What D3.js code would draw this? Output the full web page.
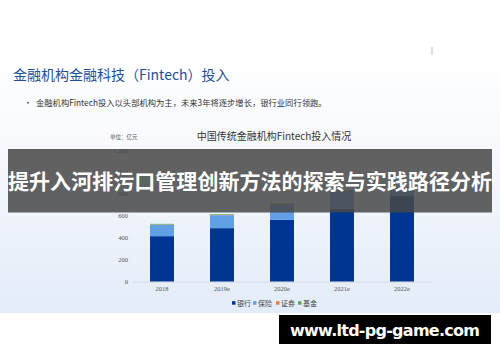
<!DOCTYPE html>
<html>
<head>
<meta charset="utf-8">
<script src="https://cdn.jsdelivr.net/npm/d3@7"></script>
<style>
  body { margin: 0; background: #fff; }
  svg { display: block; }
</style>
</head>
<body>
<script>
// chart values
var years = ["2018", "2019e", "2020e", "2021e", "2022e"];
var bank = [415, 488, 564, 665, 780];
var insurance = [103, 118, 142, 160, 75];
var securities = [3, 3, 3, 3, 3];
var fund = [6, 6, 6, 6, 6];
var seriesNames = ["银行", "保险", "证券", "基金"];
var yTicks = [0, 200, 400, 600, 800, 1000, 1200];

var width = 500, height = 362;
var colors = ["#003591", "#62a0e6", "#ed7d31", "#5aa55a"];
var cjk = "'Noto Sans CJK SC', 'Noto Sans', sans-serif";
var serif = "'Liberation Serif', 'DejaVu Serif', serif";

const svg = d3.select("body")
    .append("svg")
    .attr("width", width)
    .attr("height", height);

// slide background
var defs = svg.append("defs");
var grad = defs.append("linearGradient")
    .attr("id", "slidebg")
    .attr("x1", 0).attr("y1", 0).attr("x2", 0).attr("y2", 1);
grad.append("stop").attr("offset", "0%").attr("stop-color", "#ffffff");
grad.append("stop").attr("offset", "35%").attr("stop-color", "#f7f9fd");
grad.append("stop").attr("offset", "100%").attr("stop-color", "#e3ecf8");

svg.append("rect")
    .attr("x", 0).attr("y", 55)
    .attr("width", width).attr("height", 258)
    .attr("fill", "url(#slidebg)");

svg.append("line")
    .attr("x1", 432).attr("x2", 432)
    .attr("y1", 47).attr("y2", 55)
    .attr("stroke", "#bbb");

// slide heading
svg.append("text")
    .attr("x", 13).attr("y", 80)
    .attr("font-family", cjk)
    .attr("font-size", 14)
    .attr("fill", "#1f4f9c")
    .text("金融机构金融科技（Fintech）投入");

svg.append("text")
    .attr("x", 24).attr("y", 106)
    .attr("font-family", cjk)
    .attr("font-size", 8)
    .attr("fill", "#333")
    .text("•");

svg.append("text")
    .attr("x", 36).attr("y", 106)
    .attr("font-family", cjk)
    .attr("font-size", 8.3)
    .attr("fill", "#333")
    .text("金融机构Fintech投入以头部机构为主，未来3年将逐步增长，银行业同行领跑。");

// chart title + unit
svg.append("text")
    .attr("x", 274).attr("y", 140)
    .attr("text-anchor", "middle")
    .attr("font-family", cjk)
    .attr("font-size", 10)
    .attr("fill", "#333")
    .text("中国传统金融机构Fintech投入情况");

svg.append("text")
    .attr("x", 110).attr("y", 139)
    .attr("font-family", cjk)
    .attr("font-size", 5.5)
    .attr("fill", "#555")
    .text("单位：亿元");

// scales
var xscale = d3.scaleBand()
    .domain(years)
    .range([132, 432])
    .paddingInner(0.6)
    .paddingOuter(0.3);

var yscale = d3.scaleLinear()
    .domain([0, 1200])
    .range([281.7, 150]);

var rows = years.map((y, i) => ({
    year: y, "银行": bank[i], "保险": insurance[i], "证券": securities[i], "基金": fund[i]
}));
var stacked = d3.stack().keys(seriesNames)(rows);

// y-axis labels only
svg.append("g")
    .attr("transform", "translate(130,0)")
    .call(d3.axisLeft(yscale).tickValues(yTicks).tickSize(0).tickPadding(2))
    .call(g => g.select(".domain").remove())
    .call(g => g.selectAll("text")
        .attr("font-family", serif)
        .attr("font-size", 6.5)
        .attr("fill", "#555"));

// bars
svg.append("g")
    .selectAll("g")
    .data(stacked)
    .join("g")
    .attr("fill", (d, i) => colors[i])
    .selectAll("rect")
    .data(d => d)
    .join("rect")
    .attr("x", d => xscale(d.data.year))
    .attr("width", xscale.bandwidth())
    .attr("y", d => yscale(d[1]))
    .attr("height", d => yscale(d[0]) - yscale(d[1]));

// x-axis
svg.append("g")
    .attr("transform", `translate(0,${yscale(0)})`)
    .call(d3.axisBottom(xscale).tickSize(0).tickPadding(5))
    .call(g => g.select(".domain").attr("stroke", "#d5dbe3"))
    .call(g => g.selectAll("text")
        .attr("font-family", serif)
        .attr("font-size", 6.5)
        .attr("fill", "#555"));

// legend
var legendX = [232, 253, 276, 298];
var legend = svg.append("g")
    .selectAll("g")
    .data(seriesNames)
    .join("g")
    .attr("transform", (d, i) => `translate(${legendX[i]},303)`);
legend.append("rect")
    .attr("x", 0).attr("y", -1.8)
    .attr("width", 3.5).attr("height", 3.5)
    .attr("fill", (d, i) => colors[i]);
legend.append("text")
    .attr("x", 5).attr("y", 2.5)
    .attr("font-family", cjk)
    .attr("font-size", 7)
    .attr("fill", "#444")
    .text(d => d);

// overlay banner
svg.append("rect")
    .attr("x", 8).attr("y", 149)
    .attr("width", 484).attr("height", 63.5)
    .attr("fill", "rgba(72,72,72,0.86)");

svg.append("text")
    .attr("x", 250).attr("y", 180)
    .attr("text-anchor", "middle")
    .attr("dominant-baseline", "central")
    .attr("font-family", cjk)
    .attr("font-weight", "bold")
    .attr("font-size", 21)
    .attr("textLength", 484)
    .attr("fill", "#fff")
    .text("提升入河排污口管理创新方法的探索与实践路径分析");

// watermark
svg.append("rect")
    .attr("x", 279).attr("y", 315)
    .attr("width", 212).attr("height", 29)
    .attr("fill", "#000");

svg.append("text")
    .attr("x", 385).attr("y", 330)
    .attr("text-anchor", "middle")
    .attr("dominant-baseline", "central")
    .attr("font-family", "'DejaVu Sans', sans-serif")
    .attr("font-weight", "bold")
    .attr("font-size", 16)
    .attr("textLength", 190)
    .attr("fill", "#fff")
    .text("www.ltd-pg-game.com");
</script>
</body>
</html>
